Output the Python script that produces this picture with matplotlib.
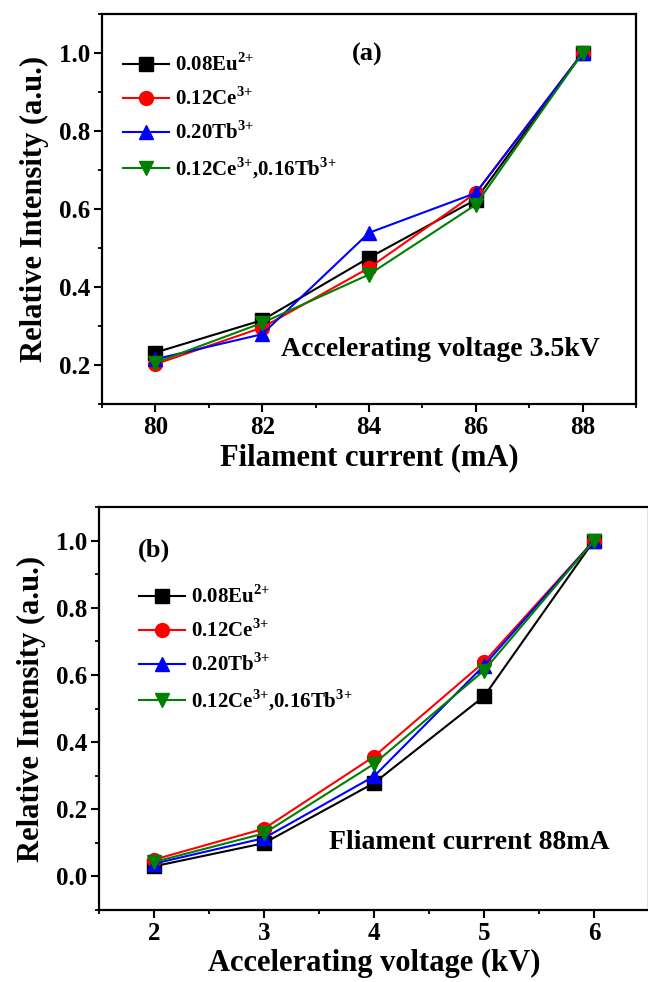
import matplotlib
matplotlib.use('Agg')
import matplotlib.pyplot as plt
from matplotlib.ticker import MultipleLocator

plt.rcParams['font.family'] = ['Liberation Serif', 'DejaVu Serif']
plt.rcParams['font.weight'] = 'bold'
plt.rcParams['mathtext.fontset'] = 'custom'
plt.rcParams['mathtext.rm'] = 'Liberation Serif:bold'
plt.rcParams['mathtext.bf'] = 'Liberation Serif:bold'

# panel (a): filament current
current = [80, 82, 84, 86, 88]
a_eu = [0.232, 0.315, 0.475, 0.624, 1.0]
a_ce = [0.202, 0.296, 0.449, 0.641, 1.0]
a_tb = [0.215, 0.279, 0.539, 0.641, 1.0]
a_cetb = [0.206, 0.308, 0.432, 0.611, 1.0]

# panel (b): accelerating voltage
voltage = [2, 3, 4, 5, 6]
b_eu = [0.030, 0.099, 0.278, 0.536, 1.0]
b_ce = [0.050, 0.142, 0.357, 0.638, 1.0]
b_tb = [0.038, 0.114, 0.298, 0.628, 1.0]
b_cetb = [0.043, 0.128, 0.335, 0.613, 1.0]

labels = [r'0.08Eu$^{2{+}}$', r'0.12Ce$^{3{+}}$', r'0.20Tb$^{3{+}}$',
          r'0.12Ce$^{3{+}}$,0.16Tb$^{3{+}}$']
colors = ['black', 'red', 'blue', 'green']
markers = ['s', 'o', '^', 'v']

W, H = 648, 982
fig = plt.figure(figsize=(W / 100, H / 100), dpi=100)


def box(left, right, top, bottom):
    return [left / W, 1 - bottom / H, (right - left) / W, (bottom - top) / H]


def style(ax):
    for s in ax.spines.values():
        s.set_linewidth(1.6)
    ax.tick_params(which='major', direction='out', length=5.5, width=1.5,
                   labelsize=18, pad=3, top=False, right=False)
    ax.tick_params(which='minor', direction='out', length=3.2, width=1.3,
                   top=False, right=False)
    for t in ax.get_xticklabels() + ax.get_yticklabels():
        t.set_fontweight('bold')


def draw(ax, x, series):
    for ys, c, m, lab in zip(series, colors, markers, labels):
        ax.plot(x, ys, color=c, marker=m, markersize=10, linewidth=1.5,
                label=lab)


ax1 = fig.add_axes(box(102, 636, 14, 404))
draw(ax1, current, [a_eu, a_ce, a_tb, a_cetb])
ax1.set_xlim(79, 89)
ax1.set_ylim(0.1, 1.1)
ax1.xaxis.set_major_locator(MultipleLocator(2))
ax1.xaxis.set_minor_locator(MultipleLocator(1))
ax1.yaxis.set_minor_locator(MultipleLocator(0.1))
ax1.set_yticks([0.2, 0.4, 0.6, 0.8, 1.0])
style(ax1)
ax1.set_xlabel('Filament current (mA)', fontsize=22, fontweight='bold', labelpad=3)
ax1.set_ylabel('Relative Intensity (a.u.)', fontsize=22, fontweight='bold', labelpad=7)
ax1.text(83.97, 0.996, '(a)', fontsize=19, fontweight='bold', ha='center', va='center')
ax1.text(85.34, 0.24, 'Accelerating voltage 3.5kV', fontsize=20,
         fontweight='bold', ha='center', va='center')
ax1.legend(loc='upper left', bbox_to_anchor=(0.024, 0.92), frameon=False,
           handlelength=2.2, handletextpad=0.3, labelspacing=0.55,
           borderaxespad=0, prop={'weight': 'bold', 'size': 15})

ax2 = fig.add_axes(box(99, 649, 507, 910))
draw(ax2, voltage, [b_eu, b_ce, b_tb, b_cetb])
ax2.set_xlim(1.5, 6.5)
ax2.set_ylim(-0.1, 1.1)
ax2.xaxis.set_major_locator(MultipleLocator(1))
ax2.xaxis.set_minor_locator(MultipleLocator(0.5))
ax2.yaxis.set_minor_locator(MultipleLocator(0.1))
ax2.set_yticks([0.0, 0.2, 0.4, 0.6, 0.8, 1.0])
style(ax2)
ax2.set_xlabel('Accelerating voltage (kV)', fontsize=22, fontweight='bold', labelpad=3)
ax2.set_ylabel('Relative Intensity (a.u.)', fontsize=22, fontweight='bold', labelpad=7)
ax2.text(2.0, 0.972, '(b)', fontsize=19, fontweight='bold', ha='center', va='center')
ax2.text(4.87, 0.10, 'Fliament current 88mA', fontsize=20,
         fontweight='bold', ha='center', va='center')
ax2.legend(loc='upper left', bbox_to_anchor=(0.058, 0.826), frameon=False,
           handlelength=2.2, handletextpad=0.3, labelspacing=0.55,
           borderaxespad=0, prop={'weight': 'bold', 'size': 15})

fig.savefig('out.png', dpi=100)
